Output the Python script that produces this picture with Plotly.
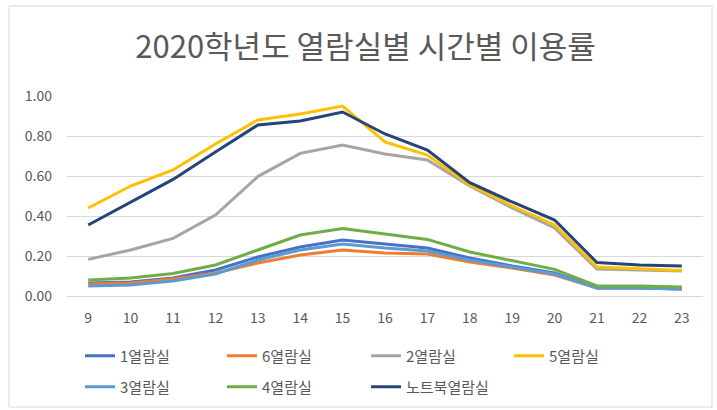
import plotly.graph_objects as go

hours = ["9", "10", "11", "12", "13", "14", "15", "16", "17", "18", "19", "20", "21", "22", "23"]

room1 = [0.065, 0.070, 0.090, 0.130, 0.195, 0.245, 0.280, 0.260, 0.240, 0.190, 0.150, 0.115, 0.040, 0.040, 0.035]
room6 = [0.060, 0.065, 0.085, 0.115, 0.165, 0.205, 0.230, 0.215, 0.210, 0.170, 0.140, 0.105, 0.040, 0.040, 0.035]
room2 = [0.183, 0.230, 0.288, 0.405, 0.597, 0.713, 0.755, 0.710, 0.680, 0.550, 0.440, 0.340, 0.135, 0.130, 0.125]
room5 = [0.440, 0.550, 0.630, 0.760, 0.880, 0.910, 0.950, 0.770, 0.705, 0.555, 0.450, 0.355, 0.145, 0.135, 0.127]
room3 = [0.050, 0.055, 0.075, 0.110, 0.180, 0.230, 0.260, 0.240, 0.225, 0.180, 0.145, 0.110, 0.040, 0.040, 0.035]
room4 = [0.080, 0.090, 0.113, 0.155, 0.230, 0.305, 0.338, 0.310, 0.283, 0.220, 0.175, 0.133, 0.050, 0.050, 0.045]
laptop = [0.355, 0.470, 0.583, 0.720, 0.855, 0.875, 0.920, 0.810, 0.730, 0.567, 0.470, 0.380, 0.167, 0.155, 0.150]

names = ["1열람실", "6열람실", "2열람실", "5열람실", "3열람실", "4열람실", "노트북열람실"]
values = [room1, room6, room2, room5, room3, room4, laptop]
colors = ["#4472C4", "#ED7D31", "#A5A5A5", "#FFC000", "#5B9BD5", "#70AD47", "#264478"]

FONT = "Noto Sans CJK KR, sans-serif"
GRAY = "#595959"

W, H = 717, 410
L, R, T, B = 67, 14, 96, 114
pw = W - L - R
ph = H - T - B

def px_x(x):
    return (x - L) / pw

def px_y(y):
    return (H - B - y) / ph

# legend grid: 4 columns, 2 rows (Excel-style bottom legend)
LEG_COLS_PX = [80, 222, 366, 509]
LEG_ROWS_PX = [356, 387]

fig = go.Figure()
legends = {}
for i, (name, vals, color) in enumerate(zip(names, values, colors)):
    key = "legend" if i == 0 else f"legend{i + 1}"
    fig.add_trace(go.Scatter(
        x=hours, y=vals, name=name, mode="lines",
        line=dict(color=color, width=3),
        legend=key,
    ))
    legends[key] = dict(
        orientation="h",
        xanchor="left",
        yanchor="middle",
        x=px_x(LEG_COLS_PX[i % 4]),
        y=px_y(LEG_ROWS_PX[i // 4]),
        font=dict(family=FONT, size=15, color=GRAY),
        itemwidth=30,
        bgcolor="rgba(0,0,0,0)",
    )

fig.update_layout(
    width=W, height=H,
    margin=dict(l=L, r=R, t=T, b=B, autoexpand=False),
    paper_bgcolor="white",
    plot_bgcolor="white",
    font=dict(family=FONT, color=GRAY),
    title=dict(
        text="2020학년도 열람실별 시간별 이용률",
        font=dict(family=FONT, size=31, color=GRAY),
        xref="container", x=365.5 / W, xanchor="center",
        yref="container", y=1 - 47 / H, yanchor="middle",
    ),
    xaxis=dict(
        type="category",
        range=[-0.5, 14.5],
        showgrid=False,
        showline=False,
        zeroline=False,
        ticks="",
        tickfont=dict(family=FONT, size=14, color=GRAY),
        ticklabelstandoff=12,
    ),
    yaxis=dict(
        range=[0, 1.0],
        tick0=0, dtick=0.2,
        tickformat=".2f",
        showgrid=True,
        gridcolor="#D9D9D9",
        gridwidth=1,
        zeroline=True,
        zerolinecolor="#D9D9D9",
        zerolinewidth=1,
        showline=False,
        ticks="",
        tickfont=dict(family=FONT, size=14, color=GRAY),
        ticklabelstandoff=14,
    ),
    showlegend=True,
    **legends,
)

fig.add_shape(
    type="rect", xref="paper", yref="paper",
    x0=px_x(9), x1=px_x(712), y0=px_y(407), y1=px_y(6),
    line=dict(color="#D9D9D9", width=1),
    fillcolor="rgba(0,0,0,0)",
    layer="below",
)

fig.write_html(
    "out.html",
    config={"displayModeBar": False},
    post_script="document.body.style.margin='0px';",
)
